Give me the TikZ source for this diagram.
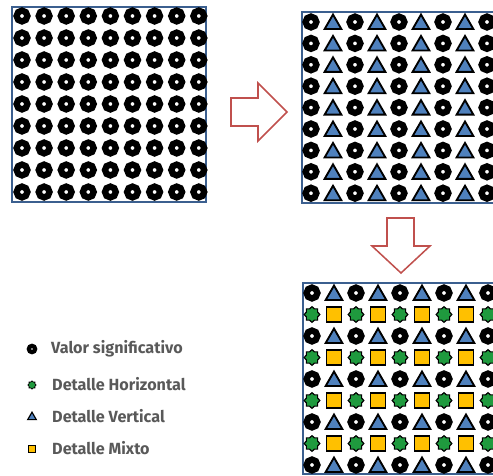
\documentclass[tikz,border=0pt]{standalone}
\usepackage{fontspec}
\setmainfont{Fira Sans}
\usepackage{xcolor}
\usetikzlibrary{shapes.geometric, positioning}

\definecolor{framblue}{HTML}{3B5F8F}
\definecolor{arrred}{HTML}{C0504D}
\definecolor{triblue}{HTML}{4F81BD}
\definecolor{stargreen}{HTML}{1F9A3E}
\definecolor{sqyellow}{HTML}{FFC000}
\definecolor{leggray}{HTML}{595959}

\tikzset{
  ring/.style={circle, draw=black, line width=5.4pt, minimum size=9.2pt, inner sep=0pt, fill=white},
  tri/.style={regular polygon, regular polygon sides=3, draw=black, fill=triblue, line width=1.6pt, minimum size=16.5pt, inner sep=0pt, yshift=-1.9pt},
  starv/.style={star, star points=8, star point ratio=1.3, draw=black, fill=stargreen, line width=1pt, minimum size=13.5pt, inner sep=0pt},
  sqr/.style={rectangle, draw=black, fill=sqyellow, line width=1.4pt, minimum size=12.5pt, inner sep=0pt},
  frame/.style={draw=framblue, line width=1.3pt},
  blockarr/.style={draw=arrred, fill=white, line width=1.3pt},
  legtext/.style={anchor=west, text=leggray, font=\fontsize{13.8}{16}\selectfont\bfseries, inner sep=0pt}
}

\begin{document}
\begin{tikzpicture}[x=0.03cm, y=-0.03cm]
  \useasboundingbox (0,0) rectangle (493,476);

  % original grid
  \draw[frame] (12,7) rectangle (206,202);
  \foreach \i in {0,...,8} {
    \foreach \j in {0,...,8} {
      \node[ring] (o-\i-\j) at ({22+22.1*\i}, {16+22*\j}) {};
    }
  }

  % first step
  \draw[blockarr] (231,98) -- (258,98) -- (258,83) -- (287,112) -- (258,141) -- (258,126) -- (231,126) -- cycle;

  \draw[frame] (302,12) rectangle (503,203);
  \foreach \j in {0,...,8} {
    \foreach \i in {0,2,...,8} {
      \node[ring] (p-\i-\j) at ({311+22*\i}, {22+21.4*\j}) {};
    }
    \foreach \i in {1,3,...,7} {
      \node[tri] (p-\i-\j) at ({311+22*\i}, {22+21.4*\j}) {};
    }
  }

  % second step
  \draw[blockarr] (387,218) -- (414,218) -- (414,246) -- (430,246) -- (401,273) -- (372,246) -- (387,246) -- cycle;

  \draw[frame] (303,283) rectangle (503,474);
  \foreach \j in {0,2,...,8} {
    \foreach \i in {0,2,...,8} {
      \node[ring] (q-\i-\j) at ({312+22*\i}, {293+21.5*\j}) {};
    }
    \foreach \i in {1,3,...,7} {
      \node[tri] (q-\i-\j) at ({312+22*\i}, {293+21.5*\j}) {};
    }
  }
  \foreach \j in {1,3,...,7} {
    \foreach \i in {0,2,...,8} {
      \node[starv] (q-\i-\j) at ({312+22*\i}, {293+21.5*\j}) {};
    }
    \foreach \i in {1,3,...,7} {
      \node[sqr] (q-\i-\j) at ({312+22*\i}, {293+21.5*\j}) {};
    }
  }

  % legend
  \node[ring, minimum size=5.4pt, line width=3.6pt] (lv) at (32,349) {};
  \node[starv, minimum size=7pt, line width=0.7pt] (lh) at (32,385) {};
  \node[tri, minimum size=8.5pt, line width=1pt, yshift=1.9pt-1pt] (lt) at (32,416) {};
  \node[sqr, minimum size=6.5pt, line width=1pt] (lm) at (32,449) {};
  \node[legtext] (tv) at (51,349) {Valor significativo};
  \node[legtext] (th) at (52,384) {Detalle Horizontal};
  \node[legtext] (tt) at (52,416) {Detalle Vertical};
  \node[legtext] (tm) at (52,448) {Detalle Mixto};
\end{tikzpicture}
\end{document}
